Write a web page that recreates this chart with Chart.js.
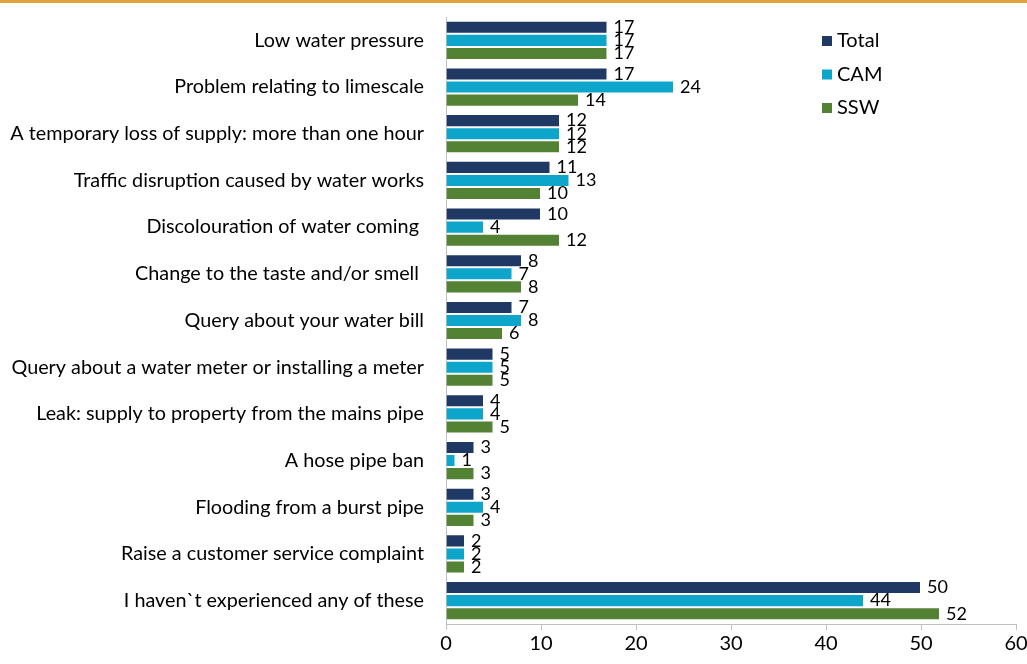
<!DOCTYPE html>
<html>
<head>
<meta charset="utf-8">
<script src="https://cdn.jsdelivr.net/npm/chart.js@4.4.0/dist/chart.umd.min.js"></script>
<style>
  html, body { margin: 0; padding: 0; background: #fff; }
  #wrap { position: relative; width: 1027px; height: 664px; }
</style>
</head>
<body>
<div id="wrap"><canvas id="chart"></canvas></div>
<script>
const categories = [
    'Low water pressure',
    'Problem relating to limescale',
    'A temporary loss of supply: more than one hour',
    'Traffic disruption caused by water works',
    'Discolouration of water coming ',
    'Change to the taste and/or smell ',
    'Query about your water bill',
    'Query about a water meter or installing a meter',
    'Leak: supply to property from the mains pipe',
    'A hose pipe ban',
    'Flooding from a burst pipe',
    'Raise a customer service complaint',
    'I haven`t experienced any of these'
];
const totalValues = [17, 17, 12, 11, 10, 8, 7, 5, 4, 3, 3, 2, 50];
const camValues = [17, 24, 12, 13, 4, 7, 8, 5, 4, 1, 4, 2, 44];
const sswValues = [17, 14, 12, 10, 12, 8, 6, 5, 5, 3, 3, 2, 52];
const xTicks = [0, 10, 20, 30, 40, 50, 60];

const FONT = 'Lato, "Open Sans", sans-serif';

// orange rule at the top + white background
const frame = {
    id: 'frame',
    beforeDraw(chart) {
        const ctx = chart.ctx;
        ctx.save();
        ctx.fillStyle = '#ffffff';
        ctx.fillRect(0, 0, chart.width, chart.height);
        ctx.fillStyle = '#E3A23A';
        ctx.fillRect(0, 0, chart.width, 3);
        ctx.restore();
    }
};

// numbers at bar ends
const barLabels = {
    id: 'barLabels',
    afterDatasetsDraw(chart) {
        const ctx = chart.ctx;
        ctx.save();
        ctx.font = '18px ' + FONT;
        ctx.fillStyle = '#000';
        ctx.textAlign = 'left';
        ctx.textBaseline = 'middle';
        chart.data.datasets.forEach((ds, i) => {
            chart.getDatasetMeta(i).data.forEach((bar, j) => {
                ctx.fillText(ds.data[j], bar.x + 6, bar.y);
            });
        });
        ctx.restore();
    }
};

// legend in the upper right corner
const cornerLegend = {
    id: 'cornerLegend',
    afterDraw(chart) {
        const ctx = chart.ctx;
        ctx.save();
        ctx.font = '20px ' + FONT;
        ctx.textBaseline = 'middle';
        chart.data.datasets.forEach((ds, i) => {
            const y = 41 + i * 33.5;
            ctx.fillStyle = ds.backgroundColor;
            ctx.fillRect(822, y - 5, 10, 10);
            ctx.fillStyle = '#000';
            ctx.fillText(ds.label, 837, y);
        });
        ctx.restore();
    }
};

new Chart(document.getElementById('chart'), {
    type: 'bar',
    data: {
        labels: categories,
        datasets: [
            { label: 'Total', data: totalValues, backgroundColor: '#203864' },
            { label: 'CAM', data: camValues, backgroundColor: '#0DA6CA' },
            { label: 'SSW', data: sswValues, backgroundColor: '#548235' }
        ]
    },
    options: {
        indexAxis: 'y',
        responsive: true,
        maintainAspectRatio: false,
        animation: false,
        datasets: {
            bar: {
                barPercentage: 1,
                categoryPercentage: 0.84,
                borderColor: '#ffffff',
                borderWidth: 1
            }
        },
        layout: { padding: { left: 10, right: 11, top: 17, bottom: 6 } },
        plugins: {
            legend: { display: false },
            tooltip: { enabled: false }
        },
        scales: {
            x: {
                min: 0,
                max: 60,
                afterBuildTicks: (scale) => { scale.ticks = xTicks.map(v => ({ value: v })); },
                afterFit: (scale) => {
                    scale.paddingLeft = 0;
                    scale.paddingRight = 0;
                },
                grid: { drawOnChartArea: false, drawTicks: true, tickLength: 6, color: '#BFBFBF' },
                border: { color: '#BFBFBF' },
                ticks: { color: '#000', padding: 2, font: { family: FONT, size: 20 } }
            },
            y: {
                afterFit: (scale) => {
                    scale.width = 436;
                    scale.paddingTop = 0;
                    scale.paddingBottom = 0;
                },
                grid: { display: false },
                border: { display: true, color: '#BFBFBF' },
                ticks: { color: '#000', padding: 14, font: { family: FONT, size: 19.8 } }
            }
        }
    },
    plugins: [frame, barLabels, cornerLegend]
});
</script>
</body>
</html>
